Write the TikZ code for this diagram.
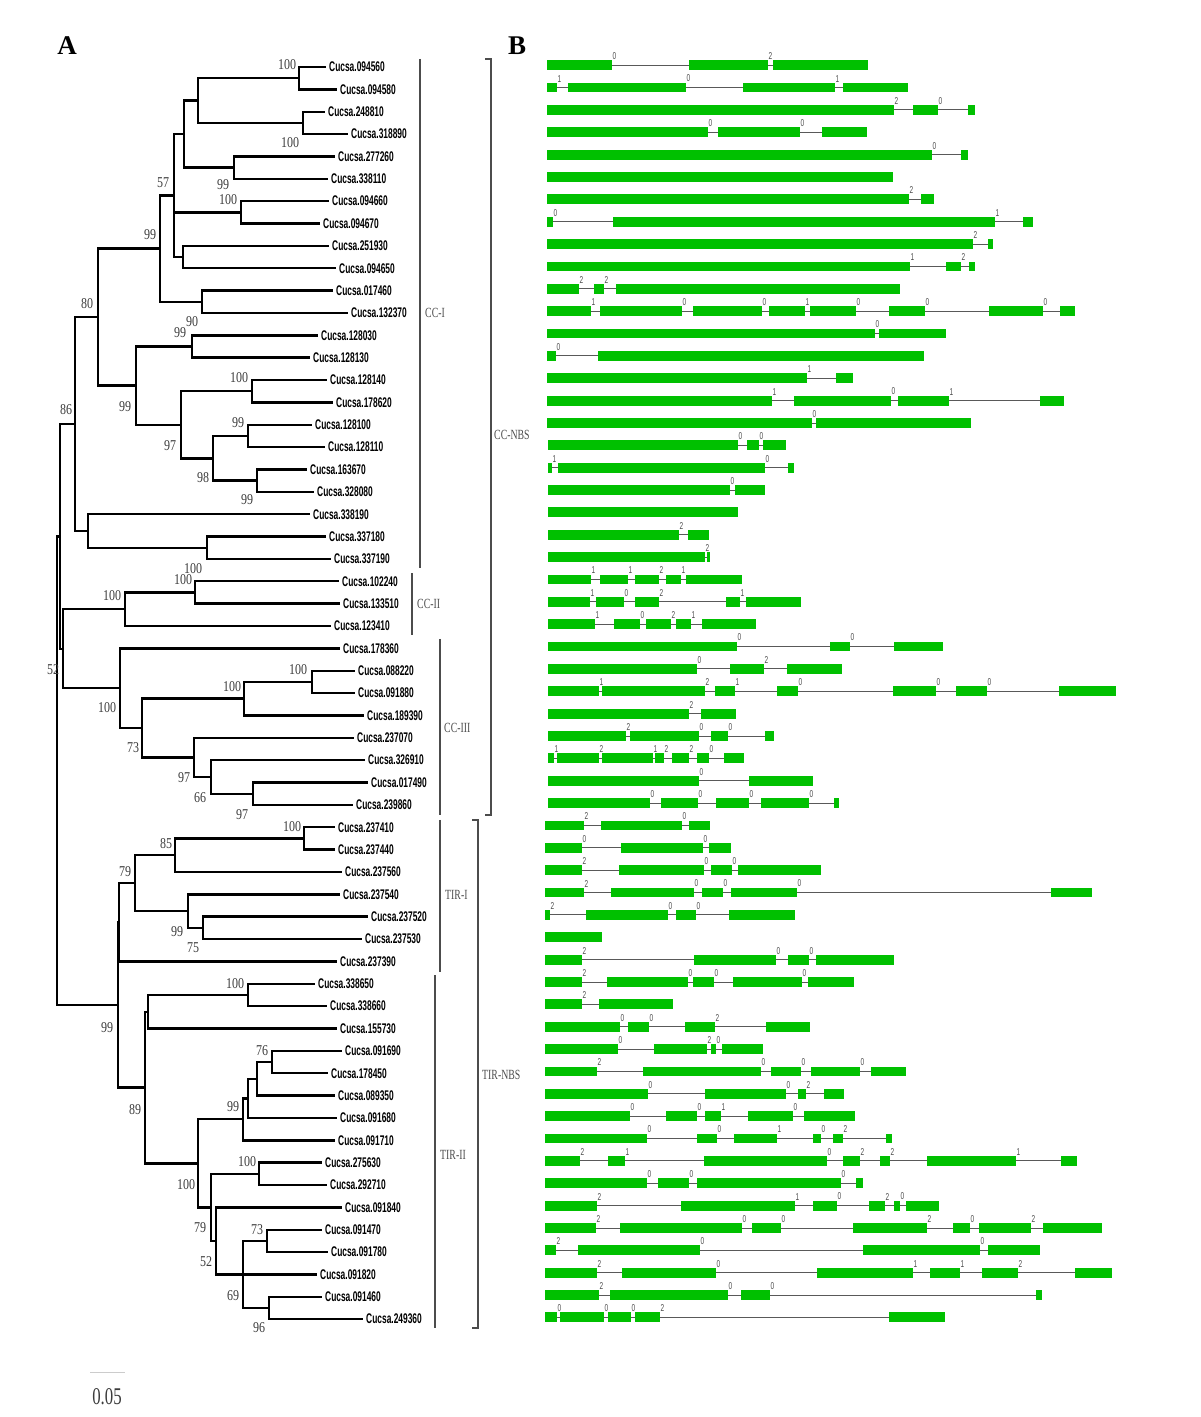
\documentclass[tikz,border=0pt]{standalone}
\usepackage{fontspec}
\setmainfont{Liberation Serif}
\setsansfont{Liberation Sans}
\usetikzlibrary{positioning}
\definecolor{exongreen}{RGB}{0,192,0}
\definecolor{bsgray}{RGB}{60,60,60}
\tikzstyle{br}=[draw,line width=2.4pt,line join=miter]
\tikzstyle{leaf}=[anchor=west,inner xsep=3pt,inner ysep=0pt,font=\sffamily\bfseries\fontsize{14}{14}\selectfont]
\tikzstyle{bs}=[inner sep=0pt,text=bsgray,font=\fontsize{15}{15}\selectfont]
\tikzstyle{grp}=[draw,line width=1.4pt,black!70]
\tikzstyle{grplab}=[anchor=west,inner sep=0pt,text=black!70,font=\fontsize{14}{14}\selectfont]
\tikzstyle{intron}=[draw,line width=0.9pt,black!65]
\tikzstyle{exon}=[fill=exongreen]
\tikzstyle{phase}=[anchor=south west,inner sep=0.4pt,text=black!70,font=\sffamily\fontsize{10}{10}\selectfont]
\newcommand{\cucsa}[1]{\scalebox{0.6}[1]{Cucsa.#1}}
\newcommand{\bsv}[1]{\scalebox{0.8}[1]{#1}}
\newcommand{\grpv}[1]{\scalebox{0.7}[1]{#1}}
% one gene model: row, first start, last end, exons start/end/phase
\newcommand{\generow}[4]{%
  \draw[intron] (#2,#1-0.08) -- (#3,#1-0.08);
  \foreach \s/\e/\p in {#4}{%
    \fill[exon] (\s,#1-0.3) rectangle (\e,#1+0.14);
    \node[phase] (ph#1-\e) at (\e,#1-0.3) {\scalebox{0.65}[1]{\p}};
  }}

\begin{document}
\begin{tikzpicture}[x=1pt,y=-22.36pt]
  \useasboundingbox (0,-1.996) rectangle (1200,61.375);
  \node[font=\bfseries\fontsize{27}{27}\selectfont,inner sep=0pt] (panA) at (67,0.06) {A};
  \node[font=\bfseries\fontsize{27}{27}\selectfont,inner sep=0pt] (panB) at (517,0.06) {B};

  % leaves
  \node[leaf] (l1) at (326,1) {\cucsa{094560}};
  \node[leaf] (l2) at (337,2) {\cucsa{094580}};
  \node[leaf] (l3) at (325,3) {\cucsa{248810}};
  \node[leaf] (l4) at (348,4) {\cucsa{318890}};
  \node[leaf] (l5) at (335,5) {\cucsa{277260}};
  \node[leaf] (l6) at (328,6) {\cucsa{338110}};
  \node[leaf] (l7) at (329,7) {\cucsa{094660}};
  \node[leaf] (l8) at (320,8) {\cucsa{094670}};
  \node[leaf] (l9) at (329,9) {\cucsa{251930}};
  \node[leaf] (l10) at (336,10) {\cucsa{094650}};
  \node[leaf] (l11) at (333,11) {\cucsa{017460}};
  \node[leaf] (l12) at (348,12) {\cucsa{132370}};
  \node[leaf] (l13) at (318,13) {\cucsa{128030}};
  \node[leaf] (l14) at (310,14) {\cucsa{128130}};
  \node[leaf] (l15) at (327,15) {\cucsa{128140}};
  \node[leaf] (l16) at (333,16) {\cucsa{178620}};
  \node[leaf] (l17) at (312,17) {\cucsa{128100}};
  \node[leaf] (l18) at (325,18) {\cucsa{128110}};
  \node[leaf] (l19) at (307,19) {\cucsa{163670}};
  \node[leaf] (l20) at (314,20) {\cucsa{328080}};
  \node[leaf] (l21) at (310,21) {\cucsa{338190}};
  \node[leaf] (l22) at (326,22) {\cucsa{337180}};
  \node[leaf] (l23) at (331,23) {\cucsa{337190}};
  \node[leaf] (l24) at (339,24) {\cucsa{102240}};
  \node[leaf] (l25) at (340,25) {\cucsa{133510}};
  \node[leaf] (l26) at (331,26) {\cucsa{123410}};
  \node[leaf] (l27) at (340,27) {\cucsa{178360}};
  \node[leaf] (l28) at (355,28) {\cucsa{088220}};
  \node[leaf] (l29) at (355,29) {\cucsa{091880}};
  \node[leaf] (l30) at (364,30) {\cucsa{189390}};
  \node[leaf] (l31) at (354,31) {\cucsa{237070}};
  \node[leaf] (l32) at (365,32) {\cucsa{326910}};
  \node[leaf] (l33) at (368,33) {\cucsa{017490}};
  \node[leaf] (l34) at (353,34) {\cucsa{239860}};
  \node[leaf] (l35) at (335,35) {\cucsa{237410}};
  \node[leaf] (l36) at (335,36) {\cucsa{237440}};
  \node[leaf] (l37) at (342,37) {\cucsa{237560}};
  \node[leaf] (l38) at (340,38) {\cucsa{237540}};
  \node[leaf] (l39) at (368,39) {\cucsa{237520}};
  \node[leaf] (l40) at (362,40) {\cucsa{237530}};
  \node[leaf] (l41) at (337,41) {\cucsa{237390}};
  \node[leaf] (l42) at (315,42) {\cucsa{338650}};
  \node[leaf] (l43) at (327,43) {\cucsa{338660}};
  \node[leaf] (l44) at (337,44) {\cucsa{155730}};
  \node[leaf] (l45) at (342,45) {\cucsa{091690}};
  \node[leaf] (l46) at (328,46) {\cucsa{178450}};
  \node[leaf] (l47) at (335,47) {\cucsa{089350}};
  \node[leaf] (l48) at (337,48) {\cucsa{091680}};
  \node[leaf] (l49) at (335,49) {\cucsa{091710}};
  \node[leaf] (l50) at (322,50) {\cucsa{275630}};
  \node[leaf] (l51) at (327,51) {\cucsa{292710}};
  \node[leaf] (l52) at (342,52) {\cucsa{091840}};
  \node[leaf] (l53) at (322,53) {\cucsa{091470}};
  \node[leaf] (l54) at (328,54) {\cucsa{091780}};
  \node[leaf] (l55) at (317,55) {\cucsa{091820}};
  \node[leaf] (l56) at (322,56) {\cucsa{091460}};
  \node[leaf] (l57) at (363,57) {\cucsa{249360}};

  % inner nodes
  \coordinate (n1) at (299,1.5);
  \coordinate (n2) at (303,3.5);
  \coordinate (n3) at (198,2.5);
  \coordinate (n4) at (234,5.5);
  \coordinate (n5) at (184,4);
  \coordinate (n6) at (241,7.5);
  \coordinate (n7) at (183,9.5);
  \coordinate (n8) at (174,6.75);
  \coordinate (n9) at (202,11.5);
  \coordinate (n10) at (160,9.125);
  \coordinate (n11) at (192,13.5);
  \coordinate (n12) at (252,15.5);
  \coordinate (n13) at (248,17.5);
  \coordinate (n14) at (257,19.5);
  \coordinate (n15) at (213,18.5);
  \coordinate (n16) at (181,17);
  \coordinate (n17) at (136,15.25);
  \coordinate (n18) at (98,12.19);
  \coordinate (n19) at (207,22.5);
  \coordinate (n20) at (88,21.75);
  \coordinate (n21) at (75,16.97);
  \coordinate (n22) at (195,24.5);
  \coordinate (n23) at (125,25.25);
  \coordinate (n24) at (312,28.5);
  \coordinate (n25) at (244,29.25);
  \coordinate (n26) at (253,33.5);
  \coordinate (n27) at (211,32.75);
  \coordinate (n28) at (194,31.875);
  \coordinate (n29) at (142,30.56);
  \coordinate (n30) at (120,28.78);
  \coordinate (n31) at (63,27.02);
  \coordinate (n32) at (60,22);
  \coordinate (n33) at (304,35.5);
  \coordinate (n34) at (175,36.25);
  \coordinate (n35) at (203,39.5);
  \coordinate (n36) at (188,38.75);
  \coordinate (n37) at (135,37.5);
  \coordinate (n38) at (119,39.25);
  \coordinate (n39) at (248,42.5);
  \coordinate (n40) at (148,43.25);
  \coordinate (n41) at (272,45.5);
  \coordinate (n42) at (257,46.25);
  \coordinate (n43) at (248,47.125);
  \coordinate (n44) at (243,48.06);
  \coordinate (n45) at (259,50.5);
  \coordinate (n46) at (267,53.5);
  \coordinate (n47) at (269,56.5);
  \coordinate (n48) at (243,55);
  \coordinate (n49) at (216,53.5);
  \coordinate (n50) at (211,52);
  \coordinate (n51) at (198,50.03);
  \coordinate (n52) at (145,46.64);
  \coordinate (n53) at (118,42.95);
  \coordinate (n54) at (57,32.5);

  % branches
  \draw[br] (n1) |- (l1.west) (n1) |- (l2.west);
  \draw[br] (n2) |- (l3.west) (n2) |- (l4.west);
  \draw[br] (n3) |- (n1) (n3) |- (n2);
  \draw[br] (n4) |- (l5.west) (n4) |- (l6.west);
  \draw[br] (n5) |- (n3) (n5) |- (n4);
  \draw[br] (n6) |- (l7.west) (n6) |- (l8.west);
  \draw[br] (n7) |- (l9.west) (n7) |- (l10.west);
  \draw[br] (n8) |- (n5) (n8) |- (n6) (n8) |- (n7);
  \draw[br] (n9) |- (l11.west) (n9) |- (l12.west);
  \draw[br] (n10) |- (n8) (n10) |- (n9);
  \draw[br] (n11) |- (l13.west) (n11) |- (l14.west);
  \draw[br] (n12) |- (l15.west) (n12) |- (l16.west);
  \draw[br] (n13) |- (l17.west) (n13) |- (l18.west);
  \draw[br] (n14) |- (l19.west) (n14) |- (l20.west);
  \draw[br] (n15) |- (n13) (n15) |- (n14);
  \draw[br] (n16) |- (n12) (n16) |- (n15);
  \draw[br] (n17) |- (n11) (n17) |- (n16);
  \draw[br] (n18) |- (n10) (n18) |- (n17);
  \draw[br] (n19) |- (l22.west) (n19) |- (l23.west);
  \draw[br] (n20) |- (l21.west) (n20) |- (n19);
  \draw[br] (n21) |- (n18) (n21) |- (n20);
  \draw[br] (n22) |- (l24.west) (n22) |- (l25.west);
  \draw[br] (n23) |- (n22) (n23) |- (l26.west);
  \draw[br] (n24) |- (l28.west) (n24) |- (l29.west);
  \draw[br] (n25) |- (n24) (n25) |- (l30.west);
  \draw[br] (n26) |- (l33.west) (n26) |- (l34.west);
  \draw[br] (n27) |- (l32.west) (n27) |- (n26);
  \draw[br] (n28) |- (l31.west) (n28) |- (n27);
  \draw[br] (n29) |- (n25) (n29) |- (n28);
  \draw[br] (n30) |- (l27.west) (n30) |- (n29);
  \draw[br] (n31) |- (n23) (n31) |- (n30);
  \draw[br] (n32) |- (n21) (n32) |- (n31);
  \draw[br] (n33) |- (l35.west) (n33) |- (l36.west);
  \draw[br] (n34) |- (n33) (n34) |- (l37.west);
  \draw[br] (n35) |- (l39.west) (n35) |- (l40.west);
  \draw[br] (n36) |- (l38.west) (n36) |- (n35);
  \draw[br] (n37) |- (n34) (n37) |- (n36);
  \draw[br] (n38) |- (n37) (n38) |- (l41.west);
  \draw[br] (n39) |- (l42.west) (n39) |- (l43.west);
  \draw[br] (n40) |- (n39) (n40) |- (l44.west);
  \draw[br] (n41) |- (l45.west) (n41) |- (l46.west);
  \draw[br] (n42) |- (n41) (n42) |- (l47.west);
  \draw[br] (n43) |- (n42) (n43) |- (l48.west);
  \draw[br] (n44) |- (n43) (n44) |- (l49.west);
  \draw[br] (n45) |- (l50.west) (n45) |- (l51.west);
  \draw[br] (n46) |- (l53.west) (n46) |- (l54.west);
  \draw[br] (n47) |- (l56.west) (n47) |- (l57.west);
  \draw[br] (n48) |- (n46) (n48) |- (l55.west) (n48) |- (n47);
  \draw[br] (n49) |- (l52.west) (n49) |- (n48);
  \draw[br] (n50) |- (n45) (n50) |- (n49);
  \draw[br] (n51) |- (n44) (n51) |- (n50);
  \draw[br] (n52) |- (n40) (n52) |- (n51);
  \draw[br] (n53) |- (n38) (n53) |- (n52);
  \draw[br] (n54) |- (n32) (n54) |- (n53);

  % bootstrap values
  \node[bs] (b1) at (287,0.91) {\bsv{100}};
  \node[bs] (b2) at (290,4.40) {\bsv{100}};
  \node[bs] (b3) at (223,6.28) {\bsv{99}};
  \node[bs] (b4) at (228,6.95) {\bsv{100}};
  \node[bs] (b5) at (163,6.19) {\bsv{57}};
  \node[bs] (b6) at (150,8.51) {\bsv{99}};
  \node[bs] (b7) at (87,11.56) {\bsv{80}};
  \node[bs] (b8) at (192,12.40) {\bsv{90}};
  \node[bs] (b9) at (180,12.90) {\bsv{99}};
  \node[bs] (b10) at (125,16.21) {\bsv{99}};
  \node[bs] (b11) at (239,14.91) {\bsv{100}};
  \node[bs] (b12) at (170,17.91) {\bsv{97}};
  \node[bs] (b13) at (238,16.92) {\bsv{99}};
  \node[bs] (b14) at (203,19.38) {\bsv{98}};
  \node[bs] (b15) at (247,20.36) {\bsv{99}};
  \node[bs] (b16) at (66,16.34) {\bsv{86}};
  \node[bs] (b17) at (193,23.41) {\bsv{100}};
  \node[bs] (b18) at (183,23.94) {\bsv{100}};
  \node[bs] (b19) at (112,24.66) {\bsv{100}};
  \node[bs] (b20) at (53,27.97) {\bsv{52}};
  \node[bs] (b21) at (107,29.67) {\bsv{100}};
  \node[bs] (b22) at (232,28.73) {\bsv{100}};
  \node[bs] (b23) at (298,27.97) {\bsv{100}};
  \node[bs] (b24) at (133,31.46) {\bsv{73}};
  \node[bs] (b25) at (184,32.80) {\bsv{97}};
  \node[bs] (b26) at (200,33.69) {\bsv{66}};
  \node[bs] (b27) at (242,34.45) {\bsv{97}};
  \node[bs] (b28) at (292,34.99) {\bsv{100}};
  \node[bs] (b29) at (166,35.71) {\bsv{85}};
  \node[bs] (b30) at (125,37.00) {\bsv{79}};
  \node[bs] (b31) at (177,39.68) {\bsv{99}};
  \node[bs] (b32) at (193,40.40) {\bsv{75}};
  \node[bs] (b33) at (107,43.98) {\bsv{99}};
  \node[bs] (b34) at (235,41.97) {\bsv{100}};
  \node[bs] (b35) at (135,47.64) {\bsv{89}};
  \node[bs] (b36) at (262,45.01) {\bsv{76}};
  \node[bs] (b37) at (233,47.51) {\bsv{99}};
  \node[bs] (b38) at (186,51.00) {\bsv{100}};
  \node[bs] (b39) at (247,49.97) {\bsv{100}};
  \node[bs] (b40) at (200,52.92) {\bsv{79}};
  \node[bs] (b41) at (206,54.44) {\bsv{52}};
  \node[bs] (b42) at (257,53.01) {\bsv{73}};
  \node[bs] (b43) at (233,55.96) {\bsv{69}};
  \node[bs] (b44) at (259,57.39) {\bsv{96}};

  % subgroups
  \coordinate (cc1a) at (420,0.64);   \coordinate (cc1b) at (420,23.41);
  \coordinate (cc2a) at (412,23.63);  \coordinate (cc2b) at (412,26.40);
  \coordinate (cc3a) at (440,26.58);  \coordinate (cc3b) at (440,34.45);
  \coordinate (tir1a) at (440,34.67); \coordinate (tir1b) at (440,41.47);
  \coordinate (tir2a) at (435,41.61); \coordinate (tir2b) at (435,57.39);
  \draw[grp] (cc1a) -- (cc1b);
  \draw[grp] (cc2a) -- (cc2b);
  \draw[grp] (cc3a) -- (cc3b);
  \draw[grp] (tir1a) -- (tir1b);
  \draw[grp] (tir2a) -- (tir2b);
  \node[grplab] (lcc1) at (425,12.0) {\grpv{CC-I}};
  \node[grplab] (lcc2) at (417,25.02) {\grpv{CC-II}};
  \node[grplab] (lcc3) at (444,30.56) {\grpv{CC-III}};
  \node[grplab] (ltir1) at (445,38.03) {\grpv{TIR-I}};
  \node[grplab] (ltir2) at (440,49.66) {\grpv{TIR-II}};

  \coordinate (ccnbsT) at (491,0.64);  \coordinate (ccnbsB) at (491,34.45);
  \coordinate (tirnbsT) at (478,34.67); \coordinate (tirnbsB) at (478,57.39);
  \draw[grp] ([xshift=-6pt]ccnbsT) -- (ccnbsT) -- (ccnbsB) -- ([xshift=-6pt]ccnbsB);
  \draw[grp] ([xshift=-6pt]tirnbsT) -- (tirnbsT) -- (tirnbsB) -- ([xshift=-6pt]tirnbsB);
  \node[grplab] (lccnbs) at (494,17.46) {\grpv{CC-NBS}};
  \node[grplab] (ltirnbs) at (482,46.08) {\grpv{TIR-NBS}};

  % scale bar
  \coordinate (sb1) at (90,59.36);
  \coordinate (sb2) at (125,59.36);
  \draw[black!20,line width=0.8pt] (sb1) -- (sb2);
  \node[font=\fontsize{24}{24}\selectfont,inner sep=0pt,text=bsgray] (sblab) at (107,60.45) {\scalebox{0.7}[1]{0.05}};

  % gene structures
  \generow{1}{547}{868}{547/612/0, 689/768/2, 773/868/{}}
  \generow{2}{547}{908}{547/557/1, 568/686/0, 743/835/1, 843/908/{}}
  \generow{3}{547}{975}{547/894/2, 913/938/0, 968/975/{}}
  \generow{4}{547}{867}{547/708/0, 718/800/0, 822/867/{}}
  \generow{5}{547}{968}{547/932/0, 961/968/{}}
  \generow{6}{547}{893}{547/893/{}}
  \generow{7}{547}{934}{547/909/2, 921/934/{}}
  \generow{8}{547}{1033}{547/553/0, 613/995/1, 1023/1033/{}}
  \generow{9}{547}{993}{547/973/2, 988/993/{}}
  \generow{10}{547}{975}{547/910/1, 946/961/2, 969/975/{}}
  \generow{11}{547}{900}{547/579/2, 594/604/2, 616/900/{}}
  \generow{12}{547}{1075}{547/591/1, 600/682/0, 693/762/0, 769/805/1, 810/856/0, 889/925/0, 989/1043/0, 1060/1075/{}}
  \generow{13}{547}{946}{547/875/0, 879/946/{}}
  \generow{14}{547}{924}{547/556/0, 598/924/{}}
  \generow{15}{547}{853}{547/807/1, 836/853/{}}
  \generow{16}{547}{1064}{547/772/1, 794/891/0, 898/949/1, 1040/1064/{}}
  \generow{17}{547}{971}{547/812/0, 816/971/{}}
  \generow{18}{548}{786}{548/738/0, 747/759/0, 763/786/{}}
  \generow{19}{548}{794}{548/552/1, 558/765/0, 788/794/{}}
  \generow{20}{548}{765}{548/730/0, 735/765/{}}
  \generow{21}{548}{738}{548/738/{}}
  \generow{22}{548}{709}{548/679/2, 688/709/{}}
  \generow{23}{548}{710}{548/705/2, 707/710/{}}
  \generow{24}{548}{742}{548/591/1, 600/628/1, 635/659/2, 666/681/1, 686/742/{}}
  \generow{25}{548}{801}{548/590/1, 596/624/0, 635/659/2, 726/740/1, 746/801/{}}
  \generow{26}{548}{756}{548/595/1, 614/640/0, 646/671/2, 676/691/1, 702/756/{}}
  \generow{27}{548}{943}{548/737/0, 830/850/0, 894/943/{}}
  \generow{28}{548}{842}{548/697/0, 730/764/2, 787/842/{}}
  \generow{29}{548}{1116}{548/599/1, 602/705/2, 715/735/1, 777/798/0, 893/936/0, 956/987/0, 1059/1116/{}}
  \generow{30}{548}{736}{548/689/2, 701/736/{}}
  \generow{31}{548}{774}{548/626/2, 630/699/0, 711/728/0, 765/774/{}}
  \generow{32}{548}{744}{548/554/1, 557/599/2, 602/653/1, 655/664/2, 672/689/2, 697/709/0, 724/744/{}}
  \generow{33}{548}{813}{548/699/0, 749/813/{}}
  \generow{34}{548}{839}{548/650/0, 661/698/0, 716/749/0, 761/809/0, 834/839/{}}
  \generow{35}{545}{710}{545/584/2, 601/682/0, 689/710/{}}
  \generow{36}{545}{731}{545/582/0, 621/703/0, 709/731/{}}
  \generow{37}{545}{821}{545/582/2, 619/704/0, 711/732/0, 738/821/{}}
  \generow{38}{545}{1092}{545/584/2, 611/694/0, 702/723/0, 731/797/0, 1051/1092/{}}
  \generow{39}{545}{795}{545/550/2, 586/668/0, 676/696/0, 729/795/{}}
  \generow{40}{545}{602}{545/602/{}}
  \generow{41}{545}{894}{545/582/2, 694/776/0, 788/809/0, 816/894/{}}
  \generow{42}{545}{854}{545/582/2, 607/688/0, 693/714/0, 733/802/0, 808/854/{}}
  \generow{43}{545}{673}{545/582/2, 599/673/{}}
  \generow{44}{545}{810}{545/620/0, 628/649/0, 685/715/2, 766/810/{}}
  \generow{45}{545}{763}{545/618/0, 654/707/2, 711/716/0, 722/763/{}}
  \generow{46}{545}{906}{545/597/2, 643/761/0, 771/801/0, 811/860/0, 871/906/{}}
  \generow{47}{545}{844}{545/648/0, 705/786/0, 798/806/2, 824/844/{}}
  \generow{48}{545}{855}{545/630/0, 666/697/0, 705/721/1, 748/793/0, 804/855/{}}
  \generow{49}{545}{892}{545/647/0, 697/717/0, 734/777/1, 813/821/0, 833/843/2, 886/892/{}}
  \generow{50}{545}{1077}{545/580/2, 608/625/1, 704/827/0, 843/860/2, 880/890/2, 927/1016/1, 1061/1077/{}}
  \generow{51}{545}{863}{545/647/0, 658/689/0, 697/841/0, 856/863/{}}
  \generow{52}{545}{939}{545/597/2, 681/795/1, 813/837/0, 869/885/2, 894/900/0, 906/939/{}}
  \generow{53}{545}{1102}{545/596/2, 620/742/0, 752/781/0, 853/927/2, 953/970/0, 979/1031/2, 1043/1102/{}}
  \generow{54}{545}{1040}{545/556/2, 578/700/0, 863/980/0, 988/1040/{}}
  \generow{55}{545}{1112}{545/597/2, 622/716/0, 817/913/1, 930/960/1, 982/1018/2, 1075/1112/{}}
  \generow{56}{545}{1042}{545/599/2, 610/728/0, 741/770/0, 1036/1042/{}}
  \generow{57}{545}{945}{545/557/0, 560/604/0, 608/631/0, 635/660/2, 889/945/{}}
\end{tikzpicture}
\end{document}
